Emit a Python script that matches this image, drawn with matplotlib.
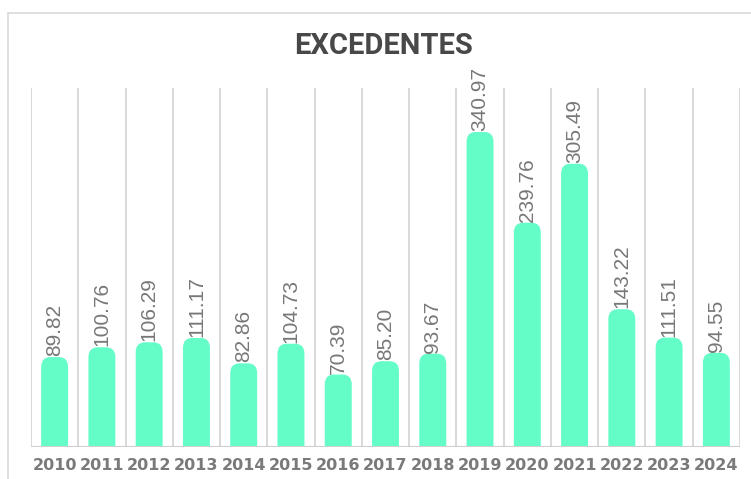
import matplotlib
matplotlib.use("Agg")
import matplotlib.pyplot as plt
from matplotlib.patches import FancyBboxPatch, Rectangle


YEARS = ["2010", "2011", "2012", "2013", "2014", "2015", "2016", "2017",
         "2018", "2019", "2020", "2021", "2022", "2023", "2024"]
VALUES = [89.82, 100.76, 106.29, 111.17, 82.86, 104.73, 70.39, 85.20,
          93.67, 340.97, 239.76, 305.49, 143.22, 111.51, 94.55]

BAR_COLOR = "#64FDC8"
Y_MIN = -10.5
Y_MAX = 390


def main():
    fig = plt.figure(figsize=(7.51, 4.79), dpi=100)

    # marco claro alrededor del gráfico
    fig.patches.append(Rectangle((8 / 751, -0.05), 1.0, (479 - 13) / 479 + 0.05,
                                 transform=fig.transFigure, fill=False,
                                 edgecolor="#d9d9d9", linewidth=1.2))

    ax = fig.add_axes([31 / 751, 32 / 479, 709 / 751, 359 / 479])
    ax.set_xlim(-0.5, len(YEARS) - 0.5)
    ax.set_ylim(Y_MIN, Y_MAX)

    # separadores verticales entre años
    for i in range(len(YEARS) + 1):
        ax.axvline(i - 0.5, color="#d6d6d6", linewidth=1.3, zorder=0)

    width = 0.57
    radius = 0.2
    aspect = 11 / radius
    for i, v in enumerate(VALUES):
        bottom = Y_MIN - 30
        patch = FancyBboxPatch((i - width / 2, bottom), width, v - bottom,
                               boxstyle=f"round,pad=0,rounding_size={radius}",
                               mutation_aspect=aspect, facecolor=BAR_COLOR,
                               edgecolor="none", zorder=2)
        ax.add_patch(patch)
        ax.text(i, v + 1, f"{v:.2f}", rotation=90, ha="center", va="bottom",
                fontsize=15, color="#777777", family="Liberation Sans", zorder=3)

    ax.axhline(Y_MIN, color="#cfcfcf", linewidth=1.5, zorder=3)

    for s in ax.spines.values():
        s.set_visible(False)
    ax.set_yticks([])
    ax.set_xticks(range(len(YEARS)))
    ax.set_xticklabels(YEARS, fontsize=11.5, fontweight="bold", color="#7a7a7a",
                       family="DejaVu Sans")
    ax.tick_params(axis="x", length=0, pad=8)

    fig.text(383 / 751, 1 - 46 / 479, "EXCEDENTES", ha="center", va="center",
             fontsize=21, fontweight="bold", color="#484848", family="Roboto")

    fig.savefig("out.png", dpi=100)
    plt.close(fig)


if __name__ == "__main__":
    main()
